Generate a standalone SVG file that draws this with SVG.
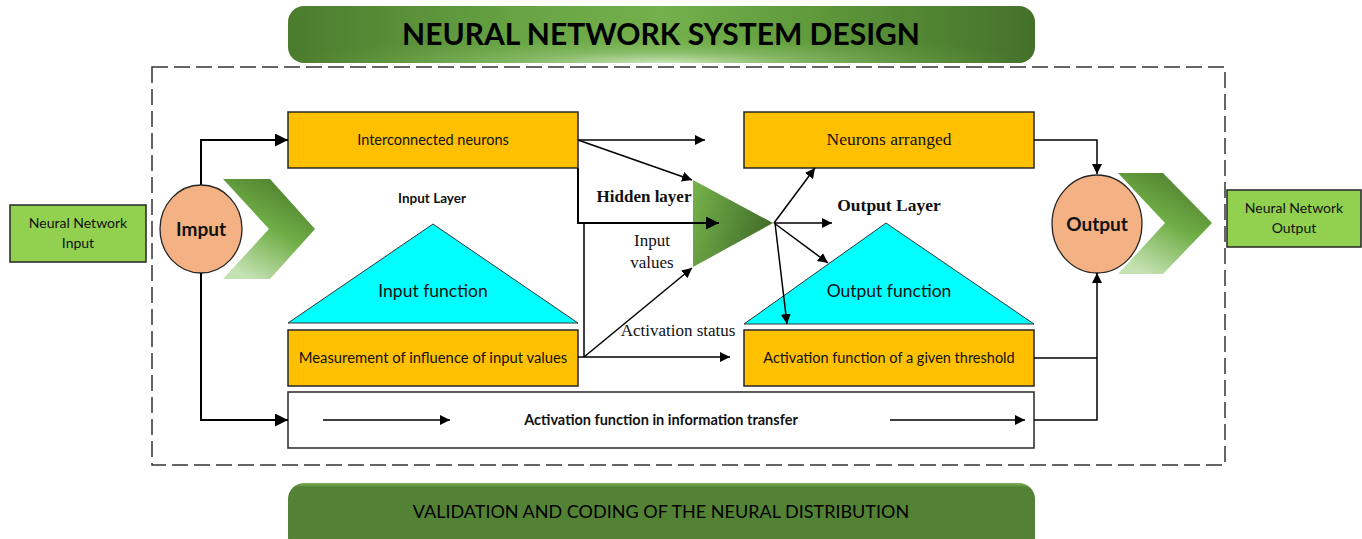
<svg xmlns="http://www.w3.org/2000/svg" width="1362" height="539" viewBox="0 0 1362 539">
<defs>
<linearGradient id="gTitle" x1="0" y1="0" x2="1" y2="0">
<stop offset="0" stop-color="#4b7b2d"/>
<stop offset="0.3" stop-color="#66a343"/>
<stop offset="0.5" stop-color="#74b14c"/>
<stop offset="0.7" stop-color="#5f9a3b"/>
<stop offset="1" stop-color="#44712a"/>
</linearGradient>
<radialGradient id="gGlow" cx="0.5" cy="1" r="0.5" fx="0.5" fy="1">
<stop offset="0" stop-color="#d6ebc8" stop-opacity="0.9"/>
<stop offset="0.4" stop-color="#a9d18e" stop-opacity="0.4"/>
<stop offset="1" stop-color="#70ad47" stop-opacity="0"/>
</radialGradient>
<linearGradient id="gBottom" x1="0" y1="0" x2="0" y2="1">
<stop offset="0" stop-color="#7fb25d"/>
<stop offset="0.06" stop-color="#548235"/>
<stop offset="1" stop-color="#538135"/>
</linearGradient>
<linearGradient id="gChev" x1="0.8" y1="0" x2="0.3" y2="1">
<stop offset="0" stop-color="#4a7a2b"/>
<stop offset="0.5" stop-color="#6fae46"/>
<stop offset="1" stop-color="#c5e2b3"/>
</linearGradient>
<linearGradient id="gHid" x1="0" y1="0" x2="1" y2="0.3">
<stop offset="0" stop-color="#76b34c"/>
<stop offset="1" stop-color="#44702a"/>
</linearGradient>
<marker id="ah" viewBox="0 0 10 10" refX="10" refY="5" markerWidth="10" markerHeight="10" markerUnits="userSpaceOnUse" orient="auto">
<path d="M0,0 L10,5 L0,10 z" fill="#000"/>
</marker>
<marker id="ahL" viewBox="0 0 10 10" refX="10" refY="5" markerWidth="13" markerHeight="13" markerUnits="userSpaceOnUse" orient="auto">
<path d="M0,0 L10,5 L0,10 z" fill="#000"/>
</marker>
</defs>
<style>
.box{fill:#FFC000;stroke:#262626;stroke-width:1.5}
.gbox{fill:#92D050;stroke:#262626;stroke-width:1.5}
.circ{fill:#F4B183;stroke:#262626;stroke-width:1.3}
.tri{fill:#00FFFF;stroke:#333;stroke-width:1}
.ln{fill:none;stroke:#000;stroke-width:1.5}
.lnb{fill:none;stroke:#000;stroke-width:2}
.sans{font-family:Lato,"Open Sans","Liberation Sans",sans-serif;fill:#111}
.ser{font-family:"Liberation Serif",serif;fill:#111}
</style>
<rect width="1362" height="539" fill="#fff"/>

<g id="title">
<rect x="288" y="6" width="747" height="57" rx="16" fill="url(#gTitle)"/>
<rect x="288" y="6" width="747" height="57" rx="16" fill="url(#gGlow)"/>
<text x="661" y="45" text-anchor="middle" class="sans" style="font-size:30px;font-weight:bold;fill:#000">NEURAL NETWORK SYSTEM DESIGN</text>
</g>

<g id="frame">
<rect x="152" y="67" width="1073" height="398" fill="none" stroke="#333" stroke-width="1.5" stroke-dasharray="16,6"/>
</g>

<g id="nn-input">
<rect x="10" y="205" width="136" height="57" class="gbox"/>
<text x="78" y="228" text-anchor="middle" class="sans" style="font-size:14px">Neural Network</text>
<text x="78" y="248" text-anchor="middle" class="sans" style="font-size:14px">Input</text>
</g>

<g id="input-chevron">
<polygon points="223,179 270,179 315,229 270,279 223,279 269,229" fill="url(#gChev)"/>
</g>

<g id="input-circle">
<ellipse cx="201" cy="229" rx="41" ry="44" class="circ"/>
<text x="201" y="236" text-anchor="middle" class="sans" style="font-size:19px;font-weight:bold">Imput</text>
</g>

<g id="interconnected">
<rect x="288" y="112" width="290" height="56" class="box"/>
<text x="433" y="145" text-anchor="middle" class="sans" style="font-size:14.5px">Interconnected neurons</text>
</g>

<g id="input-layer-label">
<text x="432" y="203" text-anchor="middle" class="sans" style="font-size:13.5px;font-weight:bold">Input Layer</text>
</g>

<g id="input-function">
<polygon points="288,323 433,224 578,323" class="tri"/>
<text x="433" y="297" text-anchor="middle" class="sans" style="font-size:17.5px">Input function</text>
</g>

<g id="measurement">
<rect x="288" y="330" width="290" height="56" class="box"/>
<text x="433" y="363" text-anchor="middle" class="sans" style="font-size:14.8px">Measurement of influence of input values</text>
</g>

<g id="transfer">
<rect x="288" y="392" width="746" height="56" fill="#fff" stroke="#262626" stroke-width="1.5"/>
<text x="661" y="425" text-anchor="middle" class="sans" style="font-size:14.5px;font-weight:bold">Activation function in information transfer</text>
</g>

<g id="hidden">
<polygon points="693,180 693,267 773,223" fill="url(#gHid)"/>
<text x="644" y="202" text-anchor="middle" class="ser" style="font-size:17px;font-weight:bold">Hidden layer</text>
</g>

<g id="neurons-arranged">
<rect x="744" y="112" width="290" height="56" class="box"/>
<text x="889" y="145" text-anchor="middle" class="ser" style="font-size:17.5px">Neurons arranged</text>
</g>

<g id="output-layer-label">
<text x="889" y="211" text-anchor="middle" class="ser" style="font-size:17.5px;font-weight:bold">Output Layer</text>
</g>

<g id="output-function">
<polygon points="744,324 886,223 1034,324" class="tri"/>
<text x="889" y="297" text-anchor="middle" class="sans" style="font-size:17.5px">Output function</text>
</g>

<g id="threshold">
<rect x="744" y="330" width="290" height="56" class="box"/>
<text x="889" y="363" text-anchor="middle" class="sans" style="font-size:14.5px">Activation function of a given threshold</text>
</g>

<g id="output-chevron">
<polygon points="1118,173 1163,173 1212,223 1163,274 1118,274 1165,223" fill="url(#gChev)"/>
</g>

<g id="output-circle">
<ellipse cx="1097" cy="224" rx="45" ry="49" class="circ"/>
<text x="1097" y="231" text-anchor="middle" class="sans" style="font-size:19px;font-weight:bold">Output</text>
</g>

<g id="nn-output">
<rect x="1227" y="190" width="134" height="57" class="gbox"/>
<text x="1294" y="213" text-anchor="middle" class="sans" style="font-size:14px">Neural Network</text>
<text x="1294" y="233" text-anchor="middle" class="sans" style="font-size:14px">Output</text>
</g>

<g id="labels">
<text x="652" y="246" text-anchor="middle" class="ser" style="font-size:17px">Input</text>
<text x="652" y="268" text-anchor="middle" class="ser" style="font-size:17px">values</text>
<text x="678" y="336" text-anchor="middle" class="ser" style="font-size:17px">Activation status</text>
</g>

<g id="connectors">
<path class="lnb" d="M201,185 V140 H288" marker-end="url(#ahL)"/>
<path class="lnb" d="M201,273 V420 H288" marker-end="url(#ahL)"/>
<path class="ln" d="M578,140 H705" marker-end="url(#ah)"/>
<path class="ln" d="M578,140 L692,180" marker-end="url(#ah)"/>
<path class="lnb" d="M578,168 V223 H719" marker-end="url(#ahL)"/>
<path class="ln" d="M584,223 V357"/>
<path class="ln" d="M578,357 H730" marker-end="url(#ah)"/>
<path class="ln" d="M584,357 L692,268" marker-end="url(#ah)"/>
<path class="ln" d="M774,223 L815,168" marker-end="url(#ah)"/>
<path class="ln" d="M774,223 H832" marker-end="url(#ah)"/>
<path class="ln" d="M774,223 L828,263" marker-end="url(#ah)"/>
<path class="ln" d="M775,223 L787,324" marker-end="url(#ah)"/>
<path class="ln" d="M323,420 H450" marker-end="url(#ah)"/>
<path class="ln" d="M890,420 H1025" marker-end="url(#ah)"/>
<path class="ln" d="M1034,140 H1097 V174" marker-end="url(#ah)"/>
<path class="ln" d="M1034,358 H1097"/>
<path class="ln" d="M1034,420 H1097 V273" marker-end="url(#ah)"/>
</g>

<g id="bottom">
<rect x="288" y="483" width="747" height="70" rx="16" fill="url(#gBottom)"/>
<text x="661" y="518" text-anchor="middle" class="sans" style="font-size:18px;fill:#000">VALIDATION AND CODING OF THE NEURAL DISTRIBUTION</text>
</g>
</svg>
